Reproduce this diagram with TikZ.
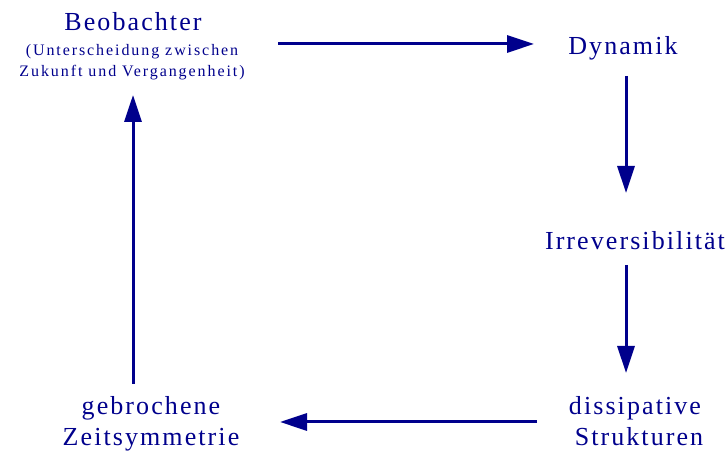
\documentclass[tikz,border=0pt]{standalone}
\usepackage{fontspec}
\setmainfont{Liberation Serif}
\newfontfamily\bigspaced[LetterSpace=8]{Liberation Serif}
\newfontfamily\smallspaced[LetterSpace=12]{Liberation Serif}
\usetikzlibrary{arrows.meta}
\definecolor{navy}{RGB}{0,0,140}
\tikzset{
  big/.style={anchor=base, inner sep=0pt, text=navy, font=\bigspaced\fontsize{26}{30}\selectfont},
  small/.style={anchor=base, inner sep=0pt, text=navy, font=\smallspaced\fontsize{16}{20}\selectfont},
  arr/.style={draw=navy, line width=3pt, -{Triangle[length=27pt,width=17pt]}}
}
\begin{document}
\begin{tikzpicture}[x=1pt,y=1pt]
\useasboundingbox (0,0) rectangle (726,452);
\node[big] (beob) at (133,421) {Beobachter};
\node[small] (beob1) at (132,396) {(Unterscheidung zwischen};
\node[small] (beob2) at (132,375) {Zukunft und Vergangenheit)};
\node[big] (dyn) at (623,397) {Dynamik};
\node[big] (irr) at (635,202) {Irreversibilität};
\node[big] (diss1) at (635,37) {dissipative};
\node[big] (diss2) at (639,6) {Strukturen};
\node[big] (zeit1) at (151,37) {gebrochene};
\node[big] (zeit2) at (151,6) {Zeitsymmetrie};
\coordinate (a1s) at (278,408);
\coordinate (a1e) at (534,408);
\coordinate (a2s) at (626,376);
\coordinate (a2e) at (626,259);
\coordinate (a3s) at (626,187);
\coordinate (a3e) at (626,79);
\coordinate (a4s) at (537,30);
\coordinate (a4e) at (280,30);
\coordinate (a5s) at (133,68);
\coordinate (a5e) at (133,357);
\draw[arr] (a1s) -- (a1e);
\draw[arr] (a2s) -- (a2e);
\draw[arr] (a3s) -- (a3e);
\draw[arr] (a4s) -- (a4e);
\draw[arr] (a5s) -- (a5e);
\end{tikzpicture}
\end{document}
